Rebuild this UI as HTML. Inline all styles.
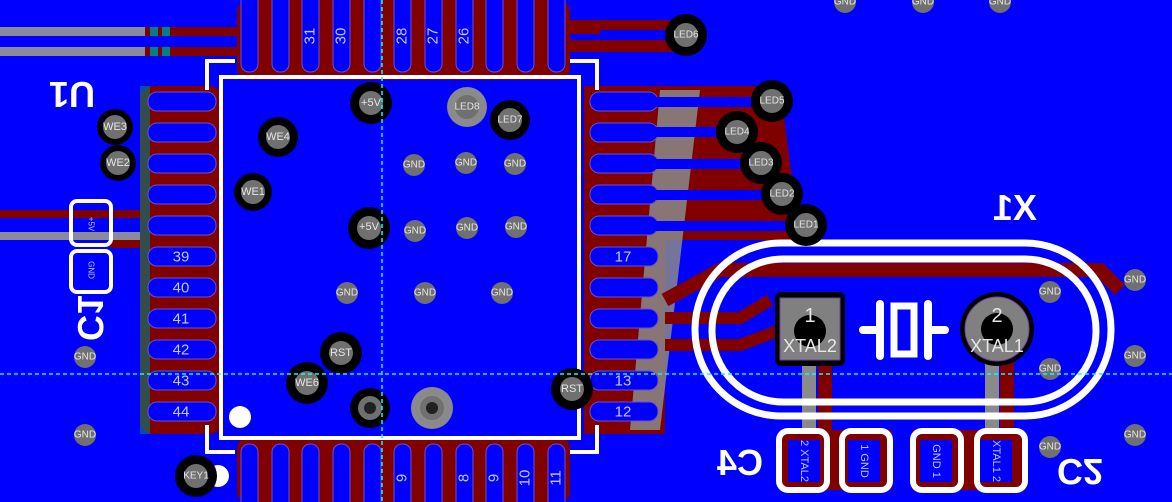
<!DOCTYPE html>
<html><head><meta charset="utf-8"><style>
html,body{margin:0;padding:0;background:#0000ff;overflow:hidden;width:1172px;height:502px}
svg{display:block;overflow:hidden}
text{font-family:"Liberation Sans",sans-serif}
.pn{fill:#c8c8ff;font-size:15px;text-anchor:middle;dominant-baseline:central}
.g{fill:#e6e6e6;font-size:10px;text-anchor:middle;dominant-baseline:central}
</style></head><body>
<svg width="1172" height="502" viewBox="0 0 1172 502" xmlns="http://www.w3.org/2000/svg">
<rect width="1172" height="502" fill="#0000ff"/>
<rect x="0" y="27" width="145" height="9" fill="#8a8a9a"/>
<rect x="0" y="47" width="145" height="9" fill="#8a8a9a"/>
<rect x="145" y="27" width="100" height="9" fill="#800000"/>
<rect x="145" y="47" width="100" height="9" fill="#800000"/>
<rect x="150" y="27" width="8" height="9" fill="#008080"/><rect x="162" y="27" width="8" height="9" fill="#008080"/>
<rect x="150" y="47" width="8" height="9" fill="#008080"/><rect x="162" y="47" width="8" height="9" fill="#008080"/>
<rect x="0" y="210" width="150" height="8" fill="#800000"/>
<rect x="0" y="232" width="150" height="8" fill="#8a8a9a"/>
<rect x="110" y="240" width="110" height="8" fill="#800000"/>
<rect x="237" y="0" width="333" height="80" rx="12" fill="#800000"/>
<rect x="520" y="20" width="160" height="14" fill="#800000"/>
<rect x="540" y="40" width="140" height="12" fill="#800000"/>
<rect x="140" y="86" width="82" height="348" rx="12" fill="#800000"/>
<rect x="140" y="86" width="10" height="348" fill="#008080" opacity="0.6"/>
<path d="M584 86 L780 86 L800 240 L665 240 L665 434 L584 434 Z" fill="#800000"/>
<path d="M660 90 L700 90 L660 430 L630 430 Z" fill="#8a8a8a" opacity="0.85"/>
<rect x="237" y="438" width="333" height="64" rx="10" fill="#800000"/>
<path d="M665 300 L720 270 L1100 270 L1120 290" stroke="#800000" stroke-width="14" fill="none"/>
<path d="M665 318 L740 318 L770 300" stroke="#800000" stroke-width="12" fill="none"/>
<path d="M665 345 L740 345 L780 330" stroke="#800000" stroke-width="12" fill="none"/>
<rect x="802" y="360" width="14" height="80" fill="#8a8a8a"/><rect x="818" y="360" width="14" height="80" fill="#800000"/>
<rect x="985" y="360" width="14" height="80" fill="#8a8a8a"/><rect x="1000" y="360" width="14" height="80" fill="#800000"/>
<rect x="780" y="430" width="112" height="60" fill="#800000"/>
<rect x="912" y="430" width="112" height="60" fill="#800000"/>
<g fill="#0000ff" stroke="#7050c0" stroke-width="1">
<rect x="241" y="-10" width="17" height="82" rx="8"/><rect x="272" y="-10" width="17" height="82" rx="8"/><rect x="302" y="-10" width="17" height="82" rx="8"/><rect x="333" y="-10" width="17" height="82" rx="8"/><rect x="364" y="-10" width="17" height="82" rx="8"/><rect x="394" y="-10" width="17" height="82" rx="8"/><rect x="425" y="-10" width="17" height="82" rx="8"/><rect x="456" y="-10" width="17" height="82" rx="8"/><rect x="486" y="-10" width="17" height="82" rx="8"/><rect x="517" y="-10" width="17" height="82" rx="8"/><rect x="548" y="-10" width="17" height="82" rx="8"/>
<rect x="241" y="444" width="17" height="70" rx="8"/><rect x="272" y="444" width="17" height="70" rx="8"/><rect x="302" y="444" width="17" height="70" rx="8"/><rect x="333" y="444" width="17" height="70" rx="8"/><rect x="364" y="444" width="17" height="70" rx="8"/><rect x="394" y="444" width="17" height="70" rx="8"/><rect x="425" y="444" width="17" height="70" rx="8"/><rect x="456" y="444" width="17" height="70" rx="8"/><rect x="486" y="444" width="17" height="70" rx="8"/><rect x="517" y="444" width="17" height="70" rx="8"/><rect x="548" y="444" width="17" height="70" rx="8"/>
<rect x="148" y="92" width="68" height="19" rx="9"/><rect x="148" y="123" width="68" height="19" rx="9"/><rect x="148" y="154" width="68" height="19" rx="9"/><rect x="148" y="185" width="68" height="19" rx="9"/><rect x="148" y="216" width="68" height="19" rx="9"/><rect x="148" y="247" width="68" height="19" rx="9"/><rect x="148" y="278" width="68" height="19" rx="9"/><rect x="148" y="309" width="68" height="19" rx="9"/><rect x="148" y="340" width="68" height="19" rx="9"/><rect x="148" y="371" width="68" height="19" rx="9"/><rect x="148" y="402" width="68" height="19" rx="9"/>
<rect x="590" y="92" width="68" height="19" rx="9"/><rect x="590" y="123" width="68" height="19" rx="9"/><rect x="590" y="154" width="68" height="19" rx="9"/><rect x="590" y="185" width="68" height="19" rx="9"/><rect x="590" y="216" width="68" height="19" rx="9"/><rect x="590" y="247" width="68" height="19" rx="9"/><rect x="590" y="278" width="68" height="19" rx="9"/><rect x="590" y="309" width="68" height="19" rx="9"/><rect x="590" y="340" width="68" height="19" rx="9"/><rect x="590" y="371" width="68" height="19" rx="9"/><rect x="590" y="402" width="68" height="19" rx="9"/>
</g>
<g stroke="#0000ff" stroke-width="10">
<line x1="650" y1="102" x2="772" y2="102"/><line x1="650" y1="132" x2="737" y2="132"/><line x1="650" y1="164" x2="761" y2="164"/><line x1="650" y1="195" x2="782" y2="195"/><line x1="650" y1="226" x2="806" y2="226"/>
<line x1="600" y1="35" x2="686" y2="35"/>
</g>
<g class="pn">
<text transform="translate(310,36) rotate(-90)">31</text><text transform="translate(341,36) rotate(-90)">30</text><text transform="translate(402,36) rotate(-90)">28</text><text transform="translate(433,36) rotate(-90)">27</text><text transform="translate(464,36) rotate(-90)">26</text>
<text transform="translate(402,478) rotate(-90)">9</text><text transform="translate(464,478) rotate(-90)">8</text><text transform="translate(494,478) rotate(-90)">9</text><text transform="translate(525,478) rotate(-90)">10</text><text transform="translate(556,478) rotate(-90)">11</text>
<text x="181" y="257">39</text><text x="181" y="288">40</text><text x="181" y="319">41</text><text x="181" y="350">42</text><text x="181" y="381">43</text><text x="181" y="412">44</text>
<text x="623" y="257">17</text><text x="623" y="381">13</text><text x="623" y="412">12</text>
</g>
<g stroke="#fff" stroke-width="4" fill="none">
<rect x="221" y="77" width="358" height="361"/>
<polyline points="207,90 207,61 235,61"/><polyline points="570,61 597,61 597,90"/>
<polyline points="207,425 207,452 235,452"/><polyline points="570,452 597,452 597,425"/>
<rect x="71" y="201" width="40" height="44" rx="6"/><rect x="71" y="251" width="40" height="41" rx="6"/>
<rect x="695" y="243" width="416" height="173" rx="86" stroke-width="7"/>
<rect x="712" y="259" width="384" height="143" rx="71" stroke-width="7"/>
<rect x="779" y="431" width="48" height="59" rx="9" stroke-width="6"/><rect x="842" y="431" width="48" height="59" rx="9" stroke-width="6"/>
<rect x="913" y="431" width="48" height="59" rx="9" stroke-width="6"/><rect x="977" y="431" width="48" height="59" rx="9" stroke-width="6"/>
</g>
<rect x="788" y="440" width="32" height="42" fill="#0000ff"/><rect x="848" y="440" width="32" height="42" fill="#0000ff"/>
<rect x="920" y="440" width="32" height="42" fill="#0000ff"/><rect x="980" y="440" width="32" height="42" fill="#0000ff"/>
<g class="pn">
<text transform="translate(804,461) rotate(90)" style="font-size:11px">2 XTAL2</text><text transform="translate(864,461) rotate(90)" style="font-size:11px">1 GND</text>
<text transform="translate(936,461) rotate(90)" style="font-size:11px">GND 1</text><text transform="translate(996,461) rotate(90)" style="font-size:11px">XTAL1 2</text>
<text transform="translate(91,224) rotate(90)" style="font-size:8px">+5V</text><text transform="translate(91,270) rotate(90)" style="font-size:8px">GND</text>
</g>
<circle cx="240" cy="417" r="11" fill="#fff"/><circle cx="218" cy="476" r="11" fill="#fff"/>
<g fill="#fff" font-weight="bold" font-size="36" text-anchor="middle">
<text transform="translate(72,82) rotate(180)">U1</text>
<text transform="translate(1015,220) scale(-1,1)">X1</text>
<text transform="translate(90,318) rotate(-90) scale(1,-1)" dy="12">C1</text>
<text transform="translate(740,475) scale(-1,1)">C4</text>
<text transform="translate(1080,459) scale(1,-1)">C2</text>
</g>
<rect x="775" y="292" width="70" height="74" rx="6" fill="#000"/>
<rect x="780" y="298" width="60" height="62" fill="#808080" stroke="#7040a0"/>
<circle cx="810" cy="331" r="16" fill="#000"/>
<circle cx="997" cy="329" r="37" fill="#000"/>
<circle cx="997" cy="329" r="32" fill="#808080" stroke="#7040a0"/>
<circle cx="997" cy="329" r="16" fill="#000"/>
<g fill="#e6e6e6" font-size="20" text-anchor="middle">
<text x="810" y="322">1</text><text x="810" y="352" font-size="18">XTAL2</text>
<text x="997" y="322">2</text><text x="997" y="352" font-size="18">XTAL1</text>
</g>
<g stroke="#fff" stroke-width="8" fill="none" stroke-linecap="round">
<line x1="863" y1="330" x2="880" y2="330"/><line x1="880" y1="304" x2="880" y2="356"/>
<rect x="894" y="306" width="20" height="48" stroke-width="7"/>
<line x1="928" y1="304" x2="928" y2="356"/><line x1="928" y1="330" x2="945" y2="330"/>
</g>
<g fill="#000">
<circle cx="115" cy="127" r="18"/><circle cx="118" cy="163" r="18"/>
<circle cx="278" cy="137" r="20"/><circle cx="253" cy="192" r="19"/>
<circle cx="371" cy="103" r="21"/><circle cx="369" cy="228" r="21"/>
<circle cx="510" cy="120" r="20"/>
<circle cx="341" cy="353" r="21"/><circle cx="307" cy="383" r="21"/>
<circle cx="572" cy="389" r="21"/><circle cx="370" cy="408" r="20"/>
<circle cx="196" cy="476" r="21"/>
<circle cx="686" cy="35" r="21"/><circle cx="772" cy="101" r="21"/><circle cx="737" cy="132" r="21"/><circle cx="761" cy="163" r="21"/><circle cx="782" cy="194" r="21"/><circle cx="806" cy="225" r="21"/>
</g>
<g fill="#707070">
<circle cx="115" cy="127" r="12"/><circle cx="118" cy="163" r="12"/><circle cx="278" cy="137" r="12"/><circle cx="253" cy="192" r="12"/><circle cx="371" cy="103" r="12"/><circle cx="369" cy="228" r="12"/><circle cx="467" cy="107" r="20" fill="#8a8a8a"/><circle cx="467" cy="107" r="12"/><circle cx="510" cy="120" r="12"/><circle cx="341" cy="353" r="12"/><circle cx="307" cy="383" r="12"/><circle cx="572" cy="389" r="12"/><circle cx="370" cy="408" r="12"/><circle cx="432" cy="408" r="21" fill="#8a8a8a"/><circle cx="432" cy="408" r="12"/><circle cx="196" cy="476" r="12"/>
<circle cx="686" cy="35" r="12"/><circle cx="772" cy="101" r="12"/><circle cx="737" cy="132" r="12"/><circle cx="761" cy="163" r="12"/><circle cx="782" cy="194" r="12"/><circle cx="806" cy="225" r="12"/>
<circle cx="414" cy="165" r="11"/><circle cx="466" cy="163" r="11"/><circle cx="515" cy="164" r="11"/><circle cx="415" cy="231" r="11"/><circle cx="467" cy="228" r="11"/><circle cx="516" cy="227" r="11"/><circle cx="347" cy="293" r="11"/><circle cx="425" cy="293" r="11"/><circle cx="502" cy="293" r="11"/><circle cx="845" cy="2" r="11"/><circle cx="923" cy="2" r="11"/><circle cx="1000" cy="2" r="11"/><circle cx="85" cy="357" r="11"/><circle cx="85" cy="435" r="11"/><circle cx="1050" cy="292" r="11"/><circle cx="1050" cy="369" r="11"/><circle cx="1050" cy="447" r="11"/><circle cx="1135" cy="280" r="11"/><circle cx="1135" cy="356" r="11"/><circle cx="1135" cy="435" r="11"/>
</g>
<g fill="#202020"><circle cx="370" cy="408" r="6"/><circle cx="432" cy="408" r="6"/></g>
<g class="g">
<text x="115" y="127" style="font-size:11px">WE3</text><text x="118" y="163" style="font-size:11px">WE2</text><text x="278" y="137" style="font-size:11px">WE4</text><text x="253" y="192" style="font-size:11px">WE1</text><text x="371" y="103" style="font-size:11px">+5V</text><text x="369" y="227" style="font-size:11px">+5V</text><text x="467" y="107">LED8</text><text x="510" y="120">LED7</text><text x="341" y="353" style="font-size:11px">RST</text><text x="307" y="383" style="font-size:11px">WE6</text><text x="572" y="389" style="font-size:11px">RST</text><text x="196" y="476">KEY1</text>
<text x="686" y="35">LED6</text><text x="772" y="101">LED5</text><text x="737" y="132">LED4</text><text x="761" y="163">LED3</text><text x="782" y="194">LED2</text><text x="806" y="225">LED1</text>
<text x="414" y="165">GND</text><text x="466" y="163">GND</text><text x="515" y="164">GND</text><text x="415" y="231">GND</text><text x="467" y="228">GND</text><text x="516" y="227">GND</text><text x="347" y="293">GND</text><text x="425" y="293">GND</text><text x="502" y="293">GND</text><text x="845" y="2">GND</text><text x="923" y="2">GND</text><text x="1000" y="2">GND</text><text x="85" y="357">GND</text><text x="85" y="435">GND</text><text x="1050" y="292">GND</text><text x="1050" y="369">GND</text><text x="1050" y="447">GND</text><text x="1135" y="280">GND</text><text x="1135" y="356">GND</text><text x="1135" y="435">GND</text>
</g>
<line x1="382" y1="0" x2="382" y2="502" stroke="#00ffff" stroke-width="1.5" stroke-dasharray="4 3"/>
<line x1="0" y1="374" x2="1172" y2="374" stroke="#00ffff" stroke-width="1.5" stroke-dasharray="4 3"/>
</svg>
</body></html>
